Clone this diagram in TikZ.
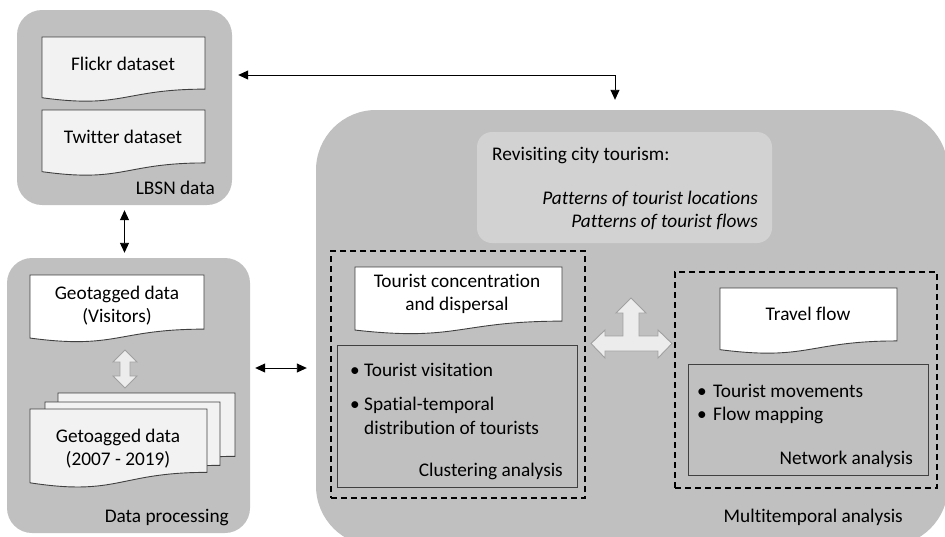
\documentclass[tikz,border=0pt]{standalone}
\usepackage{fontspec}
\setmainfont{Carlito}[Ligatures=NoCommon]
\usetikzlibrary{arrows.meta}
\definecolor{boxgray}{RGB}{192,192,192}
\definecolor{revfill}{RGB}{210,210,210}
\definecolor{docfill}{RGB}{242,242,242}
\definecolor{docline}{RGB}{64,64,64}
\definecolor{arrowfill}{RGB}{236,236,236}
\definecolor{arrowline}{RGB}{160,160,160}
\newcommand\docshape[5]{%
  \draw[#1] ({#2},{#3}) -- ({#4},{#3}) -- ({#4},{#3+0.802*#5})
    .. controls ({(#2+#4)/2},{#3+0.802*#5}) and ({(#2+#4)/2},{#3+1.107*#5}) ..
    ({#2},{#3+0.934*#5}) -- cycle;}
\begin{document}
\begin{tikzpicture}[x=1pt,y=-1pt,
  graybox/.style={fill=boxgray,draw=none,inner sep=0pt},
  txt/.style={font=\fontsize{19.3}{23}\selectfont,inner sep=0pt,text height=18pt,text depth=3pt},
  itxt/.style={font=\fontsize{19.3}{23}\selectfont\itshape,inner sep=0pt,text height=18pt,text depth=3pt},
  docw/.style={draw=docline,line width=0.9pt,fill=white},
  docg/.style={draw=docline,line width=0.9pt,fill=docfill},
  inbox/.style={draw=docline,line width=0.9pt,fill=none,inner sep=0pt},
  dashbox/.style={draw=black,line width=1.2pt,dash pattern=on 6pt off 4pt,fill=none,inner sep=0pt},
  arr/.style={{Triangle[length=10pt,width=9pt]}-{Triangle[length=10pt,width=9pt]},line width=0.9pt},
  hollow/.style={fill=arrowfill,draw=arrowline,line width=0.9pt,line join=miter}]

\useasboundingbox (0,0) rectangle (945,536);
\clip (0,0) rectangle (945,536);

% main gray containers
\node[graybox,rounded corners=25pt,minimum width=215pt,minimum height=195pt] (lbsn) at (124.5,107.5) {};
\node[graybox,rounded corners=25pt,minimum width=243pt,minimum height=275pt] (dp) at (128.5,395.5) {};
\node[graybox,rounded corners=60pt,minimum width=632pt,minimum height=436pt] (big) at (632,328) {};
\node[fill=revfill,rounded corners=15pt,minimum width=295pt,minimum height=111pt,inner sep=0pt] (rev) at (624.5,187.5) {};

% LBSN documents
\docshape{docg}{42}{37}{205}{65}
\docshape{docg}{42}{110}{205}{66}
\node[txt] (flickr) at (123,63) {Flickr dataset};
\node[txt] (twitter) at (123,136) {Twitter dataset};
\node[txt,anchor=east] (lbsnlab) at (215,187) {LBSN data};

% Data processing
\docshape{docw}{30}{275}{204}{67.5}
\node[txt] (geo1) at (117,292) {Geotagged data};
\node[txt] (geo2) at (117,315) {(Visitors)};
\draw[hollow] (125,350) -- (137,362) -- (130,362) -- (130,376) -- (137,376) -- (125,388)
  -- (113,376) -- (120,376) -- (120,362) -- (113,362) -- cycle;
\docshape{docg}{58}{393}{235}{79}
\docshape{docg}{45}{402}{220}{79}
\docshape{docg}{30}{409}{207}{79}
\node[txt] (get1) at (118,435) {Getoagged data};
\node[txt] (get2) at (118,458) {(2007 - 2019)};
\node[txt,anchor=east] (dplab) at (229,515) {Data processing};

% Revisiting box texts
\node[txt,anchor=west] (rev1) at (492,153) {Revisiting city tourism:};
\node[itxt,anchor=east] (rev2) at (758,197) {Patterns of tourist locations};
\node[itxt,anchor=east] (rev3) at (758,220) {Patterns of tourist flows};

% Left dashed group
\node[dashbox,minimum width=254pt,minimum height=247pt] (ldash) at (458,374.5) {};
\docshape{docw}{355}{267}{562}{67.5}
\node[txt] (tc1) at (457,280) {Tourist concentration};
\node[txt] (tc2) at (457,303) {and dispersal};
\node[inbox,minimum width=240pt,minimum height=142pt] (clbox) at (457,416) {};
\node[txt] (b1) at (355,369) {•};
\node[txt,anchor=west] (cl1) at (364,369) {Tourist visitation};
\node[txt] (b2) at (355,403) {•};
\node[txt,anchor=west] (cl2) at (364,403) {Spatial-temporal};
\node[txt,anchor=west] (cl3) at (364,427) {distribution of tourists};
\node[txt,anchor=east] (cllab) at (563,469) {Clustering analysis};

% Right dashed group
\node[dashbox,minimum width=262pt,minimum height=216pt] (rdash) at (806,380) {};
\docshape{docw}{720}{288}{897}{66}
\node[txt] (tf) at (808,313) {Travel flow};
\node[inbox,minimum width=240pt,minimum height=111pt] (nwbox) at (808,419.5) {};
\node[txt] (b3) at (702,390) {•};
\node[txt,anchor=west] (nw1) at (713,390) {Tourist movements};
\node[txt] (b4) at (702,413) {•};
\node[txt,anchor=west] (nw2) at (713,413) {Flow mapping};
\node[txt,anchor=east] (nwlab) at (913,457) {Network analysis};

\node[txt,anchor=east] (mtlab) at (903,515) {Multitemporal analysis};

% three-way hollow arrow
\draw[hollow] (631,298) -- (646,313) -- (639,313) -- (639,336) -- (658,336) -- (658,330)
  -- (672,343.5) -- (658,358) -- (658,351) -- (605,351) -- (605,358) -- (591,343.5)
  -- (605,330) -- (605,336) -- (623,336) -- (623,313) -- (616,313) -- cycle;

% connectors
\coordinate (corner) at (615,75);
\coordinate (hy) at (0,368);
\draw[arr,shorten <=6pt,shorten >=10pt] (lbsn.east |- corner) -- (corner) -- (corner |- big.north);
\draw[arr,shorten <=5pt,shorten >=5pt] (lbsn.south) -- (lbsn.south |- dp.north);
\draw[arr,shorten <=5pt,shorten >=9pt] (dp.east |- hy) -- (big.west |- hy);
\end{tikzpicture}
\end{document}
